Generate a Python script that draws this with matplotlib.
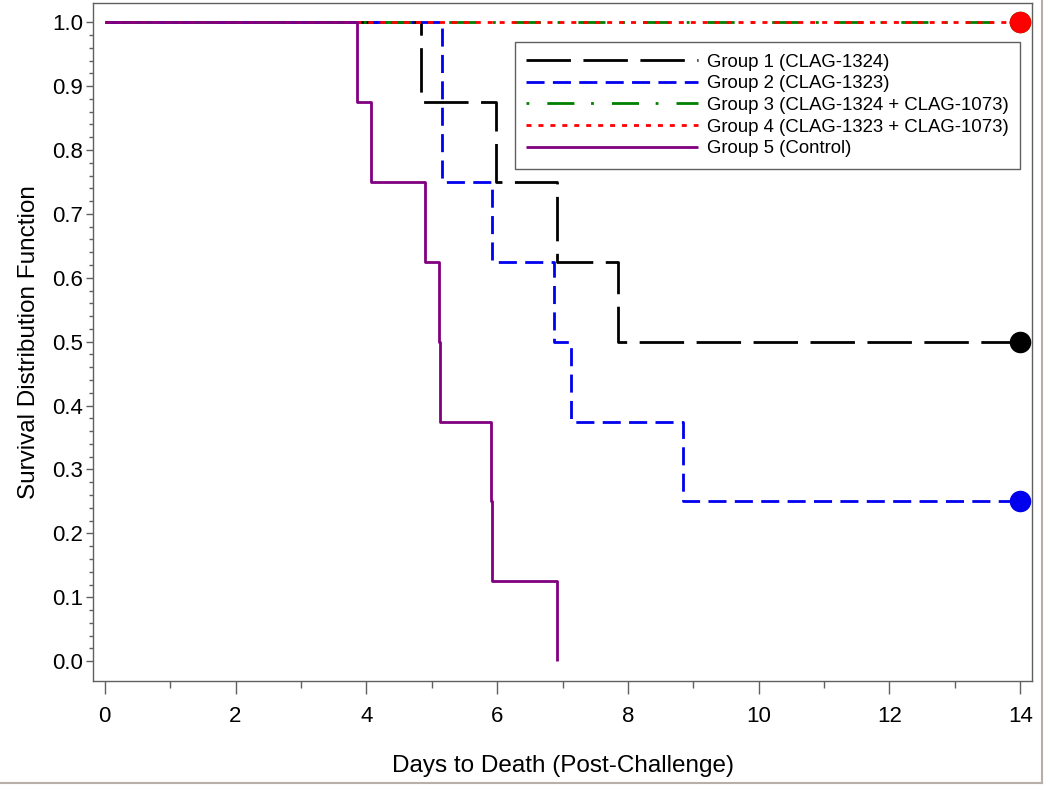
import matplotlib
matplotlib.use("Agg")
import matplotlib.pyplot as plt
from matplotlib.lines import Line2D

plt.rcParams['font.family'] = ['Liberation Sans', 'DejaVu Sans']
plt.rcParams['lines.scale_dashes'] = False

# ---- data ----
labels = ["Group 1 (CLAG-1324)", "Group 2 (CLAG-1323)",
          "Group 3 (CLAG-1324 + CLAG-1073)", "Group 4 (CLAG-1323 + CLAG-1073)",
          "Group 5 (Control)"]
g1_days = [0, 4.83, 5.98, 6.92, 7.85, 14]
g1_surv = [1.0, 0.875, 0.75, 0.625, 0.5, 0.5]
g2_days = [0, 5.16, 5.915, 6.87, 7.13, 8.85, 14]
g2_surv = [1.0, 0.75, 0.625, 0.5, 0.375, 0.25, 0.25]
g3_days = [0, 14]
g3_surv = [1.0, 1.0]
g4_days = [0, 14]
g4_surv = [1.0, 1.0]
g5_days = [0, 3.85, 4.065, 4.90, 5.115, 5.13, 5.90, 5.917, 6.92]
g5_surv = [1.0, 0.875, 0.75, 0.625, 0.5, 0.375, 0.25, 0.125, 0.0]
censor_day = 14
censor_surv = [0.5, 0.25, 1.0, 1.0]
x_ticks = [0, 2, 4, 6, 8, 10, 12, 14]
y_ticks = [0.0, 0.1, 0.2, 0.3, 0.4, 0.5, 0.6, 0.7, 0.8, 0.9, 1.0]

colors = ['black', '#0000ee', '#008000', '#ff0000', '#800080']
dashes = [(32, 9), (13, 6), (2, 13, 19.5, 12), (3.6, 5), None]
lw = 2.0

fig = plt.figure(figsize=(10.5, 7.9), dpi=100)
ax = fig.add_axes([93/1050, 1-681/790, (1032-93)/1050, (681-3)/790])

series = [(g1_days, g1_surv), (g2_days, g2_surv), (g3_days, g3_surv),
          (g4_days, g4_surv), (g5_days, g5_surv)]
handles = []
for (d, s), c, ds, lab in zip(series, colors, dashes, labels):
    ln, = ax.plot(d, s, drawstyle='steps-post', color=c, lw=lw, label=lab,
                  solid_capstyle='butt', dash_capstyle='butt')
    if ds is not None:
        ln.set_dashes(ds)
    handles.append(ln)

for s, c in zip(censor_surv, colors[:4]):
    ax.plot([censor_day], [s], 'o', color=c, ms=14.5, zorder=5, clip_on=False)

ax.set_xlim(-0.18, 14.18)
ax.set_ylim(-0.031, 1.03)
ax.set_xticks(x_ticks)
ax.set_yticks(y_ticks)
ax.set_yticklabels([f"{v:.1f}" for v in y_ticks])
ax.set_xticks([1, 3, 5, 7, 9, 11, 13], minor=True)
ax.set_yticks([i * 0.02 for i in range(51) if i % 5 != 0], minor=True)

spine_c = '#606060'
for sp in ax.spines.values():
    sp.set_color(spine_c)
    sp.set_linewidth(1.0)
ax.tick_params(axis='both', which='major', direction='out', color=spine_c,
               labelsize=16, width=1.0)
ax.tick_params(axis='x', which='major', length=9, pad=9)
ax.tick_params(axis='y', which='major', length=5, pad=2)
ax.tick_params(axis='x', which='minor', length=5, color=spine_c, width=1.0)
ax.tick_params(axis='y', which='minor', length=3, color=spine_c, width=1.0)

ax.set_xlabel("Days to Death (Post-Challenge)", fontsize=17.5, labelpad=20)
ax.set_ylabel("Survival Distribution Function", fontsize=17.5, labelpad=9)

leg = ax.legend(handles=handles, loc='upper right',
                bbox_to_anchor=(0.987, 0.9425), borderaxespad=0,
                fontsize=13.4, handlelength=9.2, handletextpad=0.48,
                borderpad=0.62, labelspacing=0.25, fancybox=False,
                framealpha=1, edgecolor='#606060')
leg.get_frame().set_linewidth(1.0)

# figure frame edges (right and bottom)
fig.add_artist(Line2D([1041.5/1050, 1041.5/1050], [1-783/790, 1.0],
                      transform=fig.transFigure, color='#b8b0a8', lw=1.5))
fig.add_artist(Line2D([0.0, 1041.5/1050], [1-783/790, 1-783/790],
                      transform=fig.transFigure, color='#b8b0a8', lw=1.5))

fig.savefig("out.png", dpi=100)
